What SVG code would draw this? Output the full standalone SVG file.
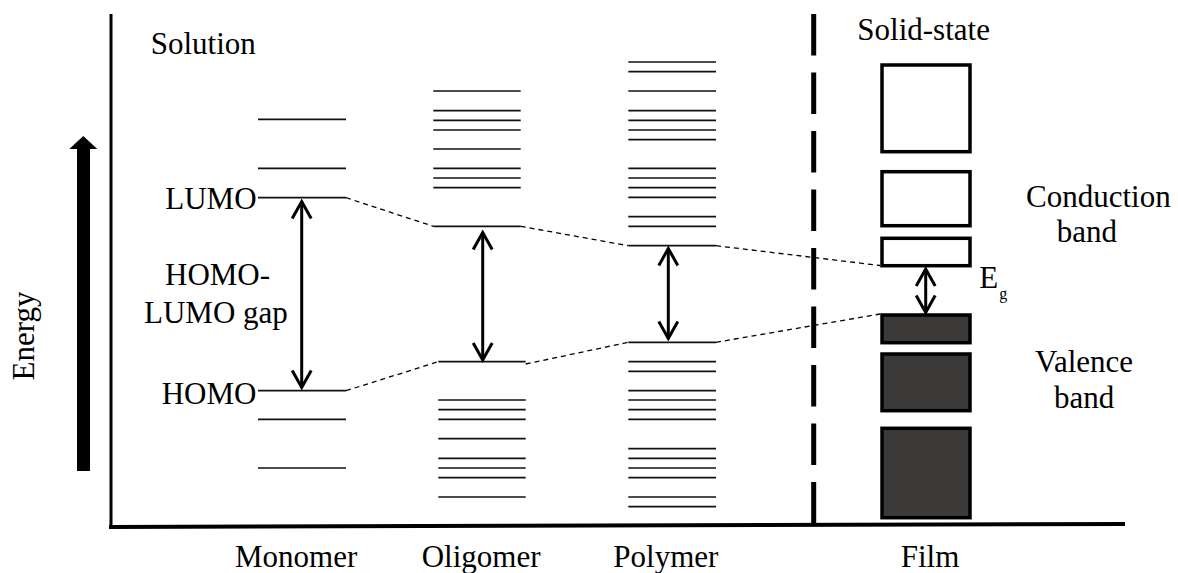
<svg xmlns="http://www.w3.org/2000/svg" width="1178" height="573" viewBox="0 0 1178 573" font-family="Liberation Serif, Times New Roman, serif" font-size="31">
<style>
text{font-family:'Liberation Serif','Times New Roman',serif;font-size:31px;fill:#000}
.lv{stroke:#111;stroke-width:1.7;fill:none}
.dash{stroke:#000;stroke-width:1.3;stroke-dasharray:5 4;fill:none}
.arr{stroke:#000;stroke-width:3;fill:none;marker-start:url(#ah);marker-end:url(#ah)}
.cb{fill:#fff;stroke:#000;stroke-width:3.5}
.vb{fill:#3c3a38;stroke:#000;stroke-width:3.5}
</style>
<defs>
<marker id="ah" viewBox="-20 -12 24 24" markerWidth="24" markerHeight="24" refX="0" refY="0" markerUnits="userSpaceOnUse" orient="auto-start-reverse" overflow="visible">
<path d="M-17,-9.5 L0,0 L-17,9.5" fill="none" stroke="#000" stroke-width="3"/>
</marker>
</defs>
<rect width="1178" height="573" fill="#fff"/>
<g id="axes">
<line x1="111" y1="14" x2="111" y2="527" stroke="#000" stroke-width="3"/>
<line x1="109" y1="527" x2="1125" y2="524" stroke="#000" stroke-width="4"/>
<line x1="813.7" y1="14" x2="813.7" y2="524" stroke="#000" stroke-width="5" stroke-dasharray="41.5 17"/>
<path d="M77,149 L69.3,149 L83.3,136 L97.3,149 L90,149 L90,471 L77,471 Z" fill="#000"/>
<text font-family="Liberation Serif, serif" transform="translate(33.5,336) rotate(-90)" text-anchor="middle">Energy</text>
</g>
<g id="labels" font-family="Liberation Serif, serif">
<text font-family="Liberation Serif, serif" x="150.7" y="54">Solution</text>
<text font-family="Liberation Serif, serif" x="857.3" y="40">Solid-state</text>
<text font-family="Liberation Serif, serif" x="235" y="567">Monomer</text>
<text font-family="Liberation Serif, serif" x="421.7" y="567">Oligomer</text>
<text font-family="Liberation Serif, serif" x="613.3" y="567">Polymer</text>
<text font-family="Liberation Serif, serif" x="900.7" y="567">Film</text>
</g>
<g id="monomer">
<line class="lv" x1="258" y1="119.3" x2="346" y2="119.3"/>
<line class="lv" x1="258" y1="168.3" x2="346" y2="168.3"/>
<line class="lv" x1="258" y1="197.7" x2="346" y2="197.7"/>
<line class="lv" x1="258" y1="390.7" x2="346" y2="390.7"/>
<line class="lv" x1="258" y1="419.3" x2="346" y2="419.3"/>
<line class="lv" x1="258" y1="468" x2="346" y2="468"/>
<text font-family="Liberation Serif, serif" x="165.3" y="209">LUMO</text>
<text font-family="Liberation Serif, serif" x="161.7" y="404">HOMO</text>
<text font-family="Liberation Serif, serif" x="165" y="285">HOMO-</text>
<text font-family="Liberation Serif, serif" x="144" y="323">LUMO gap</text>
</g>
<g id="oligomer">
<g class="lv">
<line x1="433.3" y1="91" x2="520.7" y2="91"/>
<line x1="433.3" y1="110.7" x2="520.7" y2="110.7"/>
<line x1="433.3" y1="120.3" x2="520.7" y2="120.3"/>
<line x1="433.3" y1="130" x2="520.7" y2="130"/>
<line x1="433.3" y1="149" x2="520.7" y2="149"/>
<line x1="433.3" y1="168.3" x2="520.7" y2="168.3"/>
<line x1="433.3" y1="178" x2="520.7" y2="178"/>
<line x1="433.3" y1="187.7" x2="520.7" y2="187.7"/>
<line x1="433.3" y1="226.3" x2="520.7" y2="226.3"/>
<line x1="438.3" y1="361.7" x2="525.7" y2="361.7"/>
<line x1="438.3" y1="400" x2="525.7" y2="400"/>
<line x1="438.3" y1="409.7" x2="525.7" y2="409.7"/>
<line x1="438.3" y1="419.3" x2="525.7" y2="419.3"/>
<line x1="438.3" y1="438.7" x2="525.7" y2="438.7"/>
<line x1="438.3" y1="458.3" x2="525.7" y2="458.3"/>
<line x1="438.3" y1="468" x2="525.7" y2="468"/>
<line x1="438.3" y1="477.7" x2="525.7" y2="477.7"/>
<line x1="438.3" y1="497" x2="525.7" y2="497"/>
</g>
</g>
<g id="polymer">
<g class="lv">
<line x1="628.3" y1="62" x2="716" y2="62"/>
<line x1="628.3" y1="71.7" x2="716" y2="71.7"/>
<line x1="628.3" y1="91" x2="716" y2="91"/>
<line x1="628.3" y1="110.7" x2="716" y2="110.7"/>
<line x1="628.3" y1="120.3" x2="716" y2="120.3"/>
<line x1="628.3" y1="130" x2="716" y2="130"/>
<line x1="628.3" y1="139.7" x2="716" y2="139.7"/>
<line x1="628.3" y1="168.3" x2="716" y2="168.3"/>
<line x1="628.3" y1="178" x2="716" y2="178"/>
<line x1="628.3" y1="187.7" x2="716" y2="187.7"/>
<line x1="628.3" y1="197.3" x2="716" y2="197.3"/>
<line x1="628.3" y1="216.7" x2="716" y2="216.7"/>
<line x1="628.3" y1="226.3" x2="716" y2="226.3"/>
<line x1="628.3" y1="245.7" x2="716" y2="245.7"/>
<line x1="628.3" y1="342.3" x2="716" y2="342.3"/>
<line x1="628.3" y1="361.7" x2="716" y2="361.7"/>
<line x1="628.3" y1="371.3" x2="716" y2="371.3"/>
<line x1="628.3" y1="390.7" x2="716" y2="390.7"/>
<line x1="628.3" y1="400" x2="716" y2="400"/>
<line x1="628.3" y1="409.7" x2="716" y2="409.7"/>
<line x1="628.3" y1="419.3" x2="716" y2="419.3"/>
<line x1="628.3" y1="448.7" x2="716" y2="448.7"/>
<line x1="628.3" y1="458.3" x2="716" y2="458.3"/>
<line x1="628.3" y1="468" x2="716" y2="468"/>
<line x1="628.3" y1="477.7" x2="716" y2="477.7"/>
<line x1="628.3" y1="497" x2="716" y2="497"/>
<line x1="628.3" y1="506.7" x2="716" y2="506.7"/>
</g>
</g>
<g id="film">
<rect class="cb" x="882" y="65" width="88" height="86.7"/>
<rect class="cb" x="882" y="171.7" width="88" height="54"/>
<rect class="cb" x="882" y="238.3" width="88" height="27.4"/>
<rect class="vb" x="882" y="315" width="88" height="27.7"/>
<rect class="vb" x="882" y="354" width="88" height="56.7"/>
<rect class="vb" x="882" y="428.3" width="88" height="89.4"/>
<text font-family="Liberation Serif, serif" x="1026" y="206.7">Conduction</text>
<text font-family="Liberation Serif, serif" x="1056.7" y="241.7">band</text>
<text font-family="Liberation Serif, serif" x="1035" y="371.7">Valence</text>
<text font-family="Liberation Serif, serif" x="1054" y="408.3">band</text>
<text font-family="Liberation Serif, serif" x="979.3" y="288.3">E</text>
<text font-family="Liberation Serif, serif" x="999.3" y="299" font-size="16" style="font-size:16px">g</text>
</g>
<g id="connectors">
<line class="dash" x1="346" y1="197.7" x2="433.3" y2="226.3"/>
<line class="dash" x1="520.7" y1="226.3" x2="628.3" y2="245.7"/>
<line class="dash" x1="716" y1="245.7" x2="880" y2="265.5"/>
<line class="dash" x1="346" y1="390.7" x2="438.3" y2="361.7"/>
<line class="dash" x1="525.7" y1="364" x2="628.3" y2="342.3"/>
<line class="dash" x1="716" y1="342.3" x2="880" y2="314"/>
<line class="arr" x1="301.7" y1="201.5" x2="301.7" y2="387.5"/>
<line class="arr" x1="482.7" y1="232.5" x2="482.7" y2="360"/>
<line class="arr" x1="668.3" y1="248.5" x2="668.3" y2="338.5"/>
<line class="arr" x1="925.7" y1="269" x2="925.7" y2="312.5"/>
</g>
</svg>
